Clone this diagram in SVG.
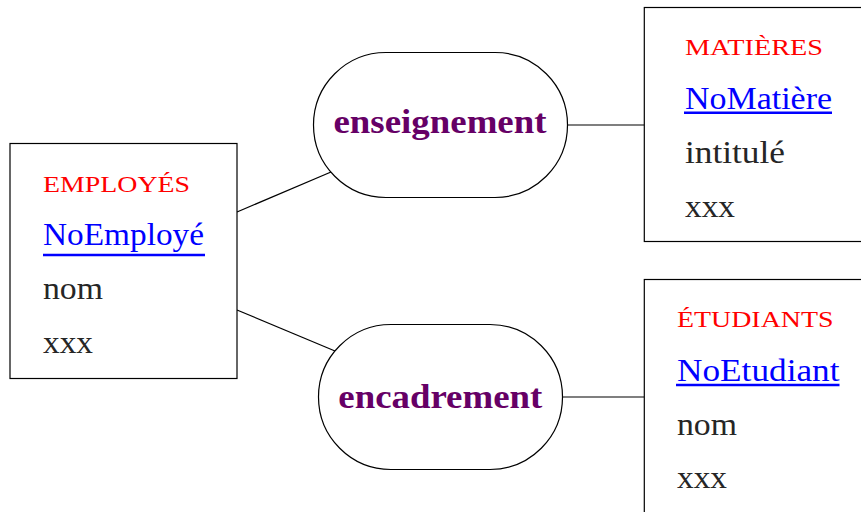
<svg xmlns="http://www.w3.org/2000/svg" width="861" height="512" viewBox="0 0 861 512">
<style>
.box{fill:#fff;stroke:#000;stroke-width:1.2}
.rel{fill:#fff;stroke:#000;stroke-width:1.2}
.hd{font-family:"Liberation Serif",serif;font-size:23px;fill:#ff0000}
.key{font-family:"Liberation Serif",serif;font-size:31px;fill:#0000ff}
.att{font-family:"Liberation Serif",serif;font-size:31px;fill:#262626}
.lbl{font-family:"Liberation Serif",serif;font-size:34px;font-weight:bold;fill:#660066;text-anchor:middle}
.ul{stroke:#0000ff;stroke-width:2.6}
.cn{stroke:#000;stroke-width:1.2;fill:none}
</style>
<rect width="861" height="512" fill="#fff"/>
<g id="connectors">
<line class="cn" x1="237" y1="212" x2="331" y2="172"/>
<line class="cn" x1="237" y1="310" x2="335" y2="351"/>
<line class="cn" x1="568" y1="125" x2="644" y2="125"/>
<line class="cn" x1="563" y1="397" x2="644" y2="397"/>
</g>
<g id="employes">
<rect class="box" x="10" y="143.5" width="227" height="235"/>
<text class="hd" x="43" y="192" textLength="147" lengthAdjust="spacingAndGlyphs">EMPLOYÉS</text>
<text class="key" x="43" y="245" textLength="161" lengthAdjust="spacingAndGlyphs">NoEmployé</text>
<line class="ul" x1="43" y1="255" x2="205" y2="255"/>
<text class="att" x="43" y="298.5" textLength="60" lengthAdjust="spacingAndGlyphs">nom</text>
<text class="att" x="43" y="352.5" textLength="50" lengthAdjust="spacingAndGlyphs">xxx</text>
</g>
<g id="matieres">
<rect class="box" x="644.3" y="7.5" width="230" height="234"/>
<text class="hd" x="685" y="55" textLength="138" lengthAdjust="spacingAndGlyphs">MATIÈRES</text>
<text class="key" x="685" y="108.5" textLength="147" lengthAdjust="spacingAndGlyphs">NoMatière</text>
<line class="ul" x1="684" y1="112.8" x2="832" y2="112.8"/>
<text class="att" x="685" y="162.7" textLength="100" lengthAdjust="spacingAndGlyphs">intitulé</text>
<text class="att" x="685" y="216.7" textLength="50" lengthAdjust="spacingAndGlyphs">xxx</text>
</g>
<g id="etudiants">
<rect class="box" x="644.3" y="279.5" width="230" height="250"/>
<text class="hd" x="677" y="327.3" textLength="156.5" lengthAdjust="spacingAndGlyphs">ÉTUDIANTS</text>
<text class="key" x="677" y="380.7" textLength="162.5" lengthAdjust="spacingAndGlyphs">NoEtudiant</text>
<line class="ul" x1="676" y1="385" x2="839.5" y2="385"/>
<text class="att" x="677" y="435" textLength="60" lengthAdjust="spacingAndGlyphs">nom</text>
<text class="att" x="677" y="488.3" textLength="50" lengthAdjust="spacingAndGlyphs">xxx</text>
</g>
<g id="enseignement">
<rect class="rel" x="313.5" y="52.5" width="254" height="145" rx="72.5" ry="72.5"/>
<text class="lbl" x="440" y="132.7" textLength="213" lengthAdjust="spacingAndGlyphs">enseignement</text>
</g>
<g id="encadrement">
<rect class="rel" x="318.5" y="324.5" width="244" height="145" rx="72.5" ry="72.5"/>
<text class="lbl" x="440.3" y="407.7" textLength="204" lengthAdjust="spacingAndGlyphs">encadrement</text>
</g>
</svg>
